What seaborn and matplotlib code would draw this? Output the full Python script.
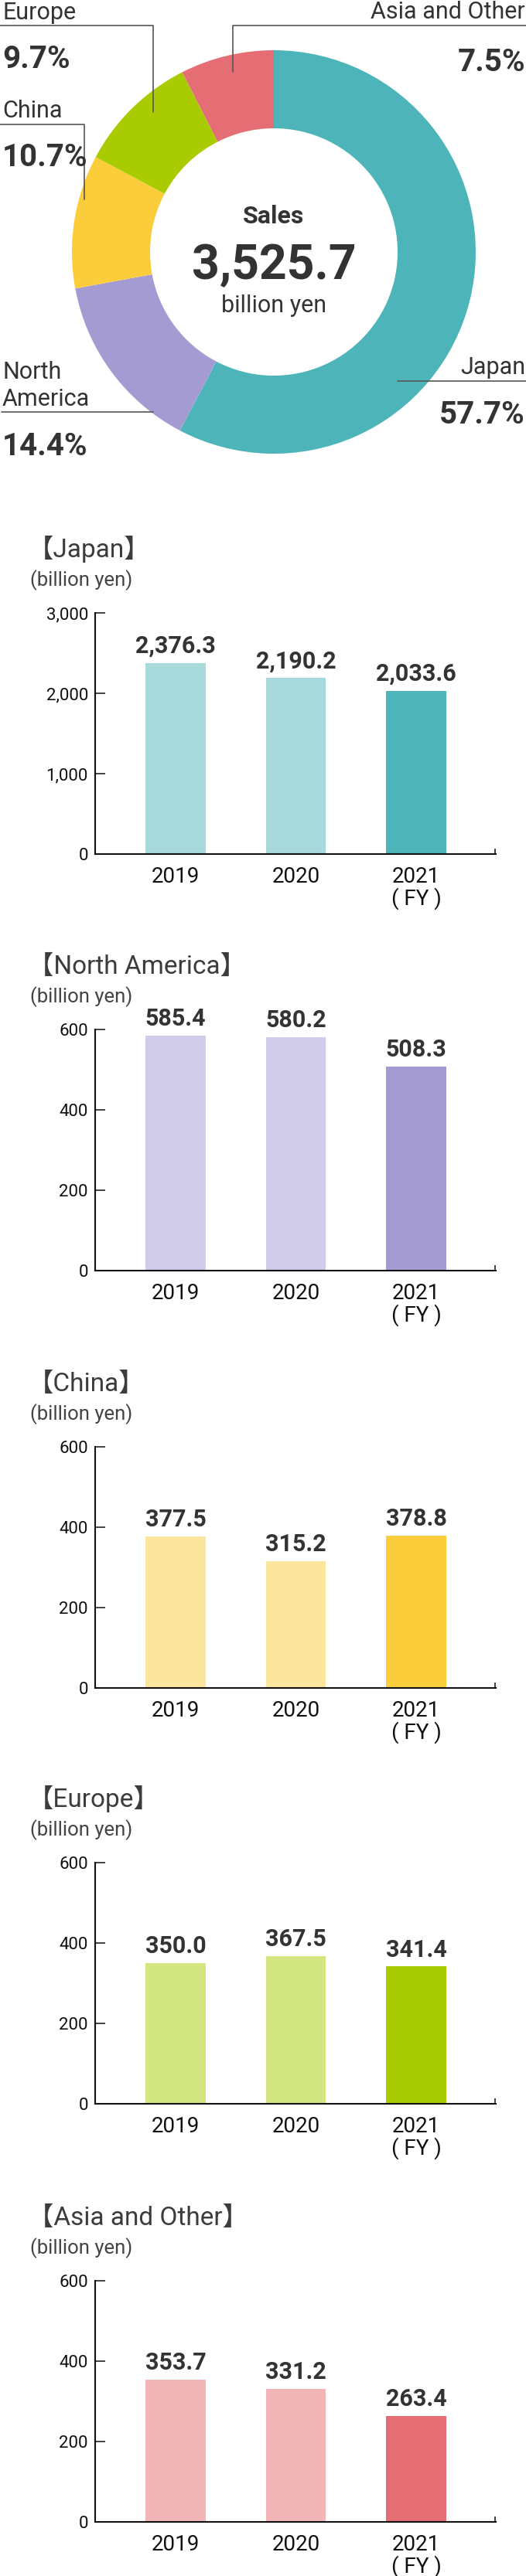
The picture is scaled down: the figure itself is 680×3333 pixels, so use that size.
import matplotlib
matplotlib.use("Agg")
import numpy as np
import pandas as pd
import matplotlib.pyplot as plt
import seaborn as sns

# ---- data ----
share_regions = ["Japan", "North America", "China", "Europe", "Asia and Other"]
share_pct = [57.7, 14.4, 10.7, 9.7, 7.5]
total_sales = "3,525.7"

years = ["2019", "2020", "2021"]
year_labels = ["2019", "2020", "2021\n( FY )"]
japan = [2376.3, 2190.2, 2033.6]
north_america = [585.4, 580.2, 508.3]
china = [377.5, 315.2, 378.8]
europe = [350.0, 367.5, 341.4]
asia_other = [353.7, 331.2, 263.4]

dark = {"Japan": "#4db5b9", "North America": "#a39bd2", "China": "#fbcd3b",
        "Europe": "#a8cc00", "Asia and Other": "#e46e73"}
light = {"Japan": "#a8dadc", "North America": "#d1cce9", "China": "#fce69e",
         "Europe": "#d4e680", "Asia and Other": "#f2b5b8"}

W, H = 680, 3333
TXT = "#333333"
LINE = "#555555"

sns.set_theme(style="ticks")
plt.rcParams["font.family"] = ["Roboto", "Noto Sans CJK JP", "DejaVu Sans"]

fig = plt.figure(figsize=(W / 100, H / 100), dpi=100)


def px_axes(left, top, right, bottom):
    return fig.add_axes([left / W, 1 - bottom / H, (right - left) / W, (bottom - top) / H])


# ---- donut ----
cx, cy, r_out, r_in = 354, 326, 261, 160
dax = px_axes(cx - r_out, cy - r_out, cx + r_out, cy + r_out)
dax.pie(share_pct, colors=[dark[r] for r in share_regions], startangle=90,
        counterclock=False, radius=1,
        wedgeprops=dict(width=(r_out - r_in) / r_out, linewidth=0))
dax.set_xlim(-1, 1)
dax.set_ylim(-1, 1)
dax.set_aspect("equal")

# overlay in pixel coords for labels and leader lines
ov = fig.add_axes([0, 0, 1, 1])
ov.set_xlim(0, W)
ov.set_ylim(H, 0)
ov.axis("off")

name_fs, pct_fs = 22, 29
ov.text(3, 25, "Europe", fontsize=name_fs, color=TXT, va="baseline")
ov.text(3, 88, "9.7%", fontsize=pct_fs, fontweight="bold", color=TXT, va="baseline")
ov.plot([0, 198, 198], [32.5, 32.5, 145], color=LINE, lw=1.2)

ov.text(679, 24, "Asia and Other", fontsize=name_fs, color=TXT, va="baseline", ha="right")
ov.text(679, 92, "7.5%", fontsize=pct_fs, fontweight="bold", color=TXT, va="baseline", ha="right")
ov.plot([680, 300.5, 300.5], [32.5, 32.5, 93], color=LINE, lw=1.2)

ov.text(3, 152, "China", fontsize=name_fs, color=TXT, va="baseline")
ov.text(3, 215, "10.7%", fontsize=pct_fs, fontweight="bold", color=TXT, va="baseline")
ov.plot([0, 109, 109], [161, 161, 258], color=LINE, lw=1.2)

ov.text(3, 490, "North", fontsize=name_fs, color=TXT, va="baseline")
ov.text(3, 525, "America", fontsize=name_fs, color=TXT, va="baseline")
ov.text(3, 589, "14.4%", fontsize=pct_fs, fontweight="bold", color=TXT, va="baseline")
ov.plot([2, 198], [533, 533], color=LINE, lw=1.2)

ov.text(679, 484, "Japan", fontsize=name_fs, color=TXT, va="baseline", ha="right")
ov.text(679, 548, "57.7%", fontsize=pct_fs, fontweight="bold", color=TXT, va="baseline", ha="right")
ov.plot([514, 680], [493, 493], color=LINE, lw=1.2)

ov.text(cx, 289, "Sales", fontsize=23, fontweight="bold", color=TXT, va="baseline", ha="center")
ov.text(cx, 361, total_sales, fontsize=45, fontweight="bold", color=TXT, va="baseline", ha="center")
ov.text(cx, 404, "billion yen", fontsize=22, color=TXT, va="baseline", ha="center")

# ---- bar charts ----
charts = [
    ("Japan", japan, 3000, [0, 1000, 2000, 3000], 793),
    ("North America", north_america, 600, [0, 200, 400, 600], 1332),
    ("China", china, 600, [0, 200, 400, 600], 1872),
    ("Europe", europe, 600, [0, 200, 400, 600], 2410),
    ("Asia and Other", asia_other, 600, [0, 200, 400, 600], 2951),
]

for name, vals, ymax, yticks, top in charts:
    zero = top + 312
    ax = px_axes(123, top, 641, zero)
    df = pd.DataFrame({"year": years, "value": vals})
    sns.barplot(data=df, x="year", y="value", hue="year",
                palette=[light[name], light[name], dark[name]],
                width=0.5, saturation=1, legend=False, linewidth=0, ax=ax)
    ax.set_xlim(-0.669, 2.662)
    ax.set_ylim(0, ymax)
    ax.set_yticks(yticks)
    ax.set_yticklabels([f"{t:,}" for t in yticks])
    ax.set_xticks([0, 1, 2])
    ax.set_xticklabels(year_labels)
    ax.set_xticks([2.655], minor=True)
    ax.set_xlabel("")
    ax.set_ylabel("")
    sns.despine(ax=ax)
    for sp in ("left", "bottom"):
        ax.spines[sp].set_linewidth(1.5)
        ax.spines[sp].set_color("#111111")
    ax.tick_params(axis="y", direction="in", length=9.4, width=1.1, pad=6.5,
                   labelsize=16, colors="#111111", left=True)
    ax.tick_params(axis="x", which="major", length=0, pad=11.5, labelsize=20,
                   labelcolor="#111111")
    ax.tick_params(axis="x", which="minor", direction="in", length=5, width=1.1,
                   color="#111111", bottom=True)
    for lbl in ax.get_xticklabels():
        lbl.set_linespacing(1.0)
    for c in ax.containers:
        ax.bar_label(c, fmt="{:,.1f}", padding=5, fontsize=22, fontweight="bold", color=TXT)

    ov.text(36, top - 72, f"【{name}】", fontsize=24, color="#3c3c3c", va="baseline")
    ov.text(39, top - 35, "(billion yen)", fontsize=18.5, color="#444444", va="baseline")

fig.savefig("out.png", dpi=100)
